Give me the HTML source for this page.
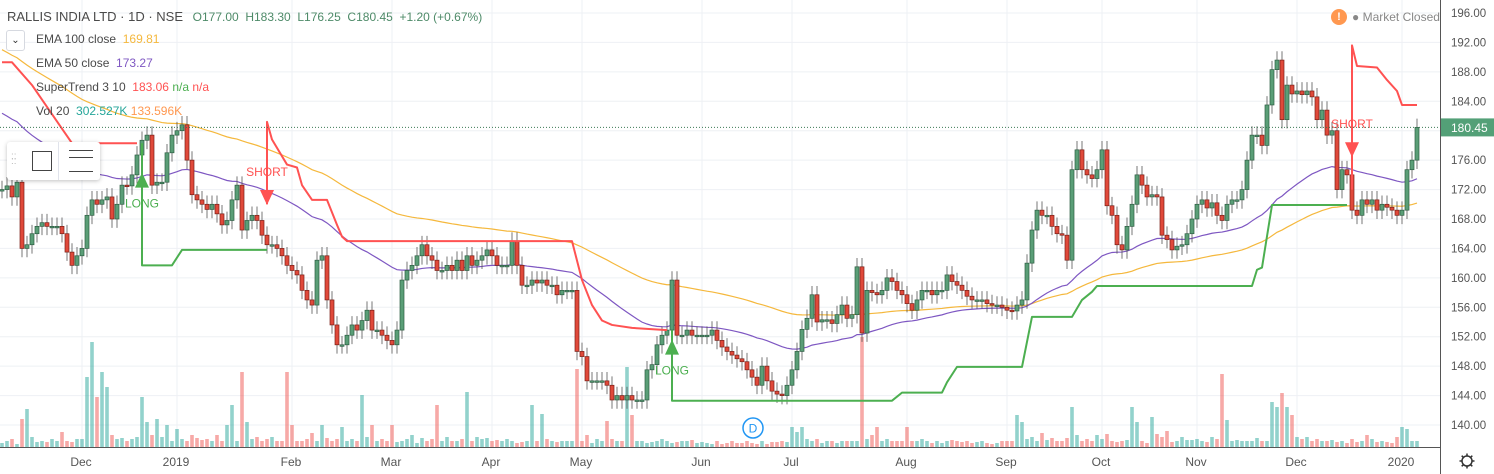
<!DOCTYPE html>
<html><head><meta charset="utf-8">
<style>
html,body{margin:0;padding:0;background:#fff;}
body{width:1494px;height:474px;overflow:hidden;position:relative;font-family:"Liberation Sans",sans-serif;}
svg{position:absolute;left:0;top:0;}
.leg{position:absolute;font-size:12px;color:#4a4a4a;white-space:nowrap;}
</style></head>
<body>
<svg id="chart" width="1494" height="474"></svg>

<div class="leg" style="left:7px;top:9px;font-size:13px;">RALLIS INDIA LTD · 1D · NSE <span style="margin-left:6px;color:#4d8a68;font-size:12px">O177.00 &nbsp;H183.30 &nbsp;L176.25 &nbsp;C180.45 &nbsp;+1.20 (+0.67%)</span></div>
<div style="position:absolute;left:6px;top:30px;width:17px;height:19px;border:1px solid #d6d9e0;border-radius:3px;background:#fff;font-size:10px;text-align:center;line-height:19px;color:#333">&#8964;</div>
<div class="leg" style="left:36px;top:32px;">EMA 100 close &nbsp;<span style="color:#f5b83d">169.81</span></div>
<div class="leg" style="left:36px;top:56px;">EMA 50 close &nbsp;<span style="color:#7e57c2">173.27</span></div>
<div class="leg" style="left:36px;top:80px;">SuperTrend 3 10 &nbsp;<span style="color:#ff5252">183.06</span> <span style="color:#4caf50">n/a</span> <span style="color:#ff5252">n/a</span></div>
<div class="leg" style="left:36px;top:104px;">Vol 20 &nbsp;<span style="color:#26a69a">302.527K</span> <span style="color:#ff9850">133.596K</span></div>

<div style="position:absolute;left:7px;top:142px;width:93px;height:38px;background:#fff;border-radius:3px;box-shadow:0 1px 4px rgba(0,0,0,.25);">
  <div style="position:absolute;left:4px;top:12px;color:#bbb;font-size:10px;line-height:5px">::<br>::</div>
  <div style="position:absolute;left:25px;top:9px;width:18px;height:18px;border:1px solid #444"></div>
  <div style="position:absolute;left:51px;top:0;width:1px;height:38px;background:#e0e3eb"></div>
  <div style="position:absolute;left:62px;top:8px;width:24px;height:20px;border-top:1px solid #444;border-bottom:1px solid #444"><div style="margin-top:6px;height:1px;background:#444"></div></div>
</div>

<div style="position:absolute;left:1331px;top:9px;width:16px;height:16px;border-radius:50%;background:#ff9850;color:#fff;font-size:11px;font-weight:bold;text-align:center;line-height:16px">!</div>
<div class="leg" style="left:1352px;top:10px;color:#888;">● Market Closed</div>

<script>
const closes = [172,172.5,171,173,164,164.5,166,167,167.5,167,167,167,166,163.5,161.7,163,164,168.5,170.6,170,
170.6,171,168,170,172.6,172.5,174,176.7,178.7,179.4,172.6,173,173,177,179.4,180,180.8,176,171.3,170.6,
170,169.3,170,168.7,167.2,167.8,170.6,172.6,166.5,167.8,168.5,167.8,165.8,164.5,164.5,164,163,161.7,161,160.4,
158.3,157,156.3,162.4,163,157,153.6,150.9,150.9,152.2,153.6,152.9,154.2,155.6,152.9,152.9,152.2,151.5,150.9,152.9,
159.7,161,161.7,163,164.5,163,162.4,161,161,161.7,161,162.4,161,163,161.7,162.4,163,163.8,163,161.7,
161.7,161.7,165,161.7,159,159,159.7,159.3,159.7,159,159,157.7,158.3,158.3,158.3,150,149.3,146,146,146,
146,145.4,143.4,144,143.4,144,143.4,143.4,143.4,147.5,148.2,150.9,152.2,152.9,159.7,152.2,152.2,152.9,152.2,152.2,
152.2,152.2,152.9,151.5,150.6,150,149.5,149,148.6,147.5,146.5,145.4,148,146,144.6,144.2,144,145.4,147.5,150,
153,154.5,157.7,154,154.3,154.3,153.8,155,156.3,154.5,155,161.5,152.5,158.3,158,157.7,158.3,160,159.5,158.3,
157.7,156.5,155.6,157,158.3,158.3,157.7,158.3,158.3,160.4,159.5,159,158.3,157.5,157,157,157,156.5,156.3,156.3,
156,155.6,155.5,156.3,157,162,166.5,169.2,168.5,168.5,167,166,165.8,162.4,174.7,177.4,174.7,174,173.5,174.7,
177.4,169.8,168.5,164.5,163.8,167,170,174,172.6,171,171.3,171,165.8,165.2,163.8,164.3,164.5,166,168,170,
170.6,169.5,170.2,168.5,167.8,170,170.6,170.6,172,176,179.4,179.4,178,183.5,188.3,189.6,181.5,186.2,185,185.4,
184.9,185.4,184.6,181.5,182.8,179.4,180,172,174.7,174,169.2,168.5,170.6,170,170.6,169.2,170,169.6,169.2,168.5,
169.2,174.7,176,180.45];
const volumes = [40,60,80,30,280,380,100,50,60,50,80,60,150,60,50,80,80,700,1050,500,
750,600,120,80,90,60,80,100,500,250,120,280,100,220,60,180,80,60,120,90,
70,80,60,120,60,220,420,60,750,250,80,100,60,80,100,60,60,750,220,60,
60,80,140,60,220,90,60,80,200,60,80,60,520,100,220,60,80,60,220,50,
60,80,120,40,90,60,80,420,60,100,60,60,80,550,60,100,80,90,60,70,
60,80,60,40,50,60,420,60,330,80,60,50,60,60,60,780,60,120,40,80,
60,260,80,60,60,800,320,60,60,40,50,60,80,60,40,50,60,60,70,40,
50,40,30,60,30,40,60,40,40,60,40,30,60,30,50,50,60,50,200,150,
200,80,60,80,40,60,60,40,60,60,60,60,1100,80,120,200,60,80,60,60,
60,200,60,60,80,60,40,60,40,60,70,60,50,60,40,50,60,40,30,40,
60,60,60,320,250,80,100,60,140,70,90,60,60,90,400,120,60,80,60,120,
80,130,60,50,60,70,400,250,60,40,300,130,100,160,50,60,100,70,70,80,
60,50,100,80,730,270,60,70,60,60,60,90,60,60,450,400,540,400,320,100,
80,100,60,80,60,60,70,50,60,40,80,50,60,120,80,50,60,50,40,100,
200,180,60,60];
const stIdx = [0,2,6,14,27, 28,28,34,36,53, 53,53,54,57,59,60,62,65,67,68,69,114,116,118,120,122,126,133,
134,134,178,180,188,189,191,204,206,214,216,218,219,250,251,252,254,269, 270,270,271,275,277,279,280,283];
const stVal = [189.3,189.3,186.2,178.3,178.3, 178.3,161.7,161.7,163.8,163.8, 170,181.2,178.8,175.4,175,172.6,170.6,170.6,167.2,165.6,165,165,159.7,156.3,154.2,153.6,153.2,152.9,
152.9,143.3,143.3,144.4,144.4,145.8,147.9,147.9,154.7,154.7,157,158.1,158.9,158.9,161.1,161.4,169.9,169.9, 172,191.6,188.8,188.6,186.9,185.4,183.5,183.5];
const stSeg = [0,0,0,0,0, 1,1,1,1,1, 2,2,2,2,2,2,2,2,2,2,2,2,2,2,2,2,2,2,
3,3,3,3,3,3,3,3,3,3,3,3,3,3,3,3,3,3, 4,4,4,4,4,4,4,4];
const stDir = [-1,1,-1,1,-1];
const sigIdx = [28,53,134,270];
const sigPrice = [174.3,169.9,151.6,176.4];
const sigType = ["LONG","SHORT","LONG","SHORT"];
const priceTicks = [196,192,188,184,180,176,172,168,164,160,156,152,148,144,140];
const monthLabels = ["Dec","2019","Feb","Mar","Apr","May","Jun","Jul","Aug","Sep","Oct","Nov","Dec","2020"];
const monthIdx = [16,35,58,78,98,116,140,158,181,201,220,239,259,280];
const ema100Seed = 191.4, ema50Seed = 182.8;
const lastPrice = 180.45;

const NS="http://www.w3.org/2000/svg";
const svg=document.getElementById('chart');
const PW=1440, PB=447;
const xOf=i=>2+i*5;
const yOf=p=>13+(196-p)*7.357;
const vH=v=>v*0.1;
function el(tag,attrs,parent){const e=document.createElementNS(NS,tag);for(const k in attrs)e.setAttribute(k,attrs[k]);(parent||svg).appendChild(e);return e;}

const grid=el('g',{});


priceTicks.forEach(p=>{const l=el('line',{x1:0,x2:PW,y1:yOf(p),y2:yOf(p),stroke:'#eef0f4','stroke-width':1},grid);

});
monthIdx.forEach(i=>{const l=el('line',{x1:xOf(i),x2:xOf(i),y1:0,y2:PB,stroke:'#eef0f4','stroke-width':1},grid);

});

const clip=el('clipPath',{id:'pc'});el('rect',{x:0,y:0,width:PW,height:PB},clip);
const plot=el('g',{'clip-path':'url(#pc)'});



const vg=el('g',{},plot);


volumes.forEach((v,i)=>{const up=i===0||closes[i]>=closes[i-1];const h=vH(v);
const r=el('rect',{x:xOf(i)-1.8,y:PB-h,width:3.6,height:h,fill:up?'rgba(38,166,154,0.5)':'rgba(239,83,80,0.5)'},vg);

});

function ema(seed,n){const k=2/(n+1);let e=seed;return closes.map(c=>(e=c*k+e*(1-k)));}
[[ema(ema100Seed,100),'#f5b83d','ema100-line'],[ema(ema50Seed,50),'#7e57c2','ema50-line']].forEach(([arr,col,nm])=>{
const p=el('polyline',{points:arr.map((v,i)=>xOf(i)+','+yOf(v)).join(' '),fill:'none',stroke:col,'stroke-width':1.2},plot);

});

const cg=el('g',{},plot);


closes.forEach((c,i)=>{const o=i===0?c:closes[i-1];const up=c>=o;
const hi=Math.max(o,c)+1.2, lo=Math.min(o,c)-1.2;
const g=el('g',{},cg);


el('line',{x1:xOf(i),x2:xOf(i),y1:yOf(hi),y2:yOf(lo),stroke:'#555','stroke-width':0.8},g);
const top=yOf(Math.max(o,c)),h=Math.max(1.5,yOf(Math.min(o,c))-top);
el('rect',{x:xOf(i)-2,y:top,width:4,height:h,fill:up?'#5a9e77':'#e0493a',stroke:up?'#2d5e43':'#7a2018','stroke-width':0.7},g);});

const sg=el('g',{},plot);


stDir.forEach((d,s)=>{const pts=[];stIdx.forEach((ix,k)=>{if(stSeg[k]===s)pts.push(xOf(ix)+','+yOf(stVal[k]));});
const p=el('polyline',{points:pts.join(' '),fill:'none',stroke:d>0?'#4caf50':'#ff5252','stroke-width':2,'stroke-linejoin':'round'},sg);

});

sigIdx.forEach((ix,k)=>{const x=xOf(ix),y=yOf(sigPrice[k]);const long=sigType[k]==='LONG';
const col=long?'#4caf50':'#ff5252';
const g=el('g',{},plot);


if(long){el('polygon',{points:`${x},${y} ${x-7},${y+15} ${x+7},${y+15}`,fill:col},g);
const t=el('text',{x:x,y:y+35,fill:col,'font-size':12,'text-anchor':'middle','font-family':'Liberation Sans, sans-serif'},g);t.textContent='LONG';}
else{el('polygon',{points:`${x},${y} ${x-7},${y-15} ${x+7},${y-15}`,fill:col},g);
const t=el('text',{x:x,y:y-29,fill:col,'font-size':12,'text-anchor':'middle','font-family':'Liberation Sans, sans-serif'},g);t.textContent='SHORT';}});

const lp=el('line',{x1:0,x2:PW,y1:yOf(lastPrice),y2:yOf(lastPrice),stroke:'#3c7a55','stroke-width':1,'stroke-dasharray':'1,2'});



const dm=el('g',{});


el('circle',{cx:753,cy:428,r:10,fill:'#fff',stroke:'#2196f3','stroke-width':1.5},dm);
const dt=el('text',{x:753,y:432.5,fill:'#2196f3','font-size':12,'text-anchor':'middle','font-family':'Liberation Sans, sans-serif'},dm);dt.textContent='D';

el('line',{x1:PW+0.5,x2:PW+0.5,y1:0,y2:474,stroke:'#555','stroke-width':1});
el('line',{x1:0,x2:PW,y1:PB+0.5,y2:PB+0.5,stroke:'#555','stroke-width':1});
const ya=el('g',{});


priceTicks.forEach(p=>{const t=el('text',{x:1451,y:yOf(p)+4,fill:'#555','font-size':11.5,'font-family':'Liberation Sans, sans-serif'},ya);t.textContent=p.toFixed(2);

});
const lb=el('g',{});


el('rect',{x:1441,y:yOf(lastPrice)-9,width:53,height:18,fill:'#53a077'},lb);
const lt=el('text',{x:1451,y:yOf(lastPrice)+4.5,fill:'#fff','font-size':12,'font-family':'Liberation Sans, sans-serif'},lb);lt.textContent=lastPrice.toFixed(2);
const xa=el('g',{});


monthLabels.forEach((m,k)=>{const t=el('text',{x:xOf(monthIdx[k])-1,y:466,fill:'#555','font-size':12,'text-anchor':'middle','font-family':'Liberation Sans, sans-serif'},xa);t.textContent=m;

});
const gear=el('g',{});


el('circle',{cx:1467,cy:461,r:5,fill:'none',stroke:'#333','stroke-width':1.5},gear);
for(let a=0;a<8;a++){const r=a*Math.PI/4;el('line',{x1:1467+5*Math.cos(r),y1:461+5*Math.sin(r),x2:1467+7.5*Math.cos(r),y2:461+7.5*Math.sin(r),stroke:'#333','stroke-width':1.5},gear);}
</script>
</body></html>
